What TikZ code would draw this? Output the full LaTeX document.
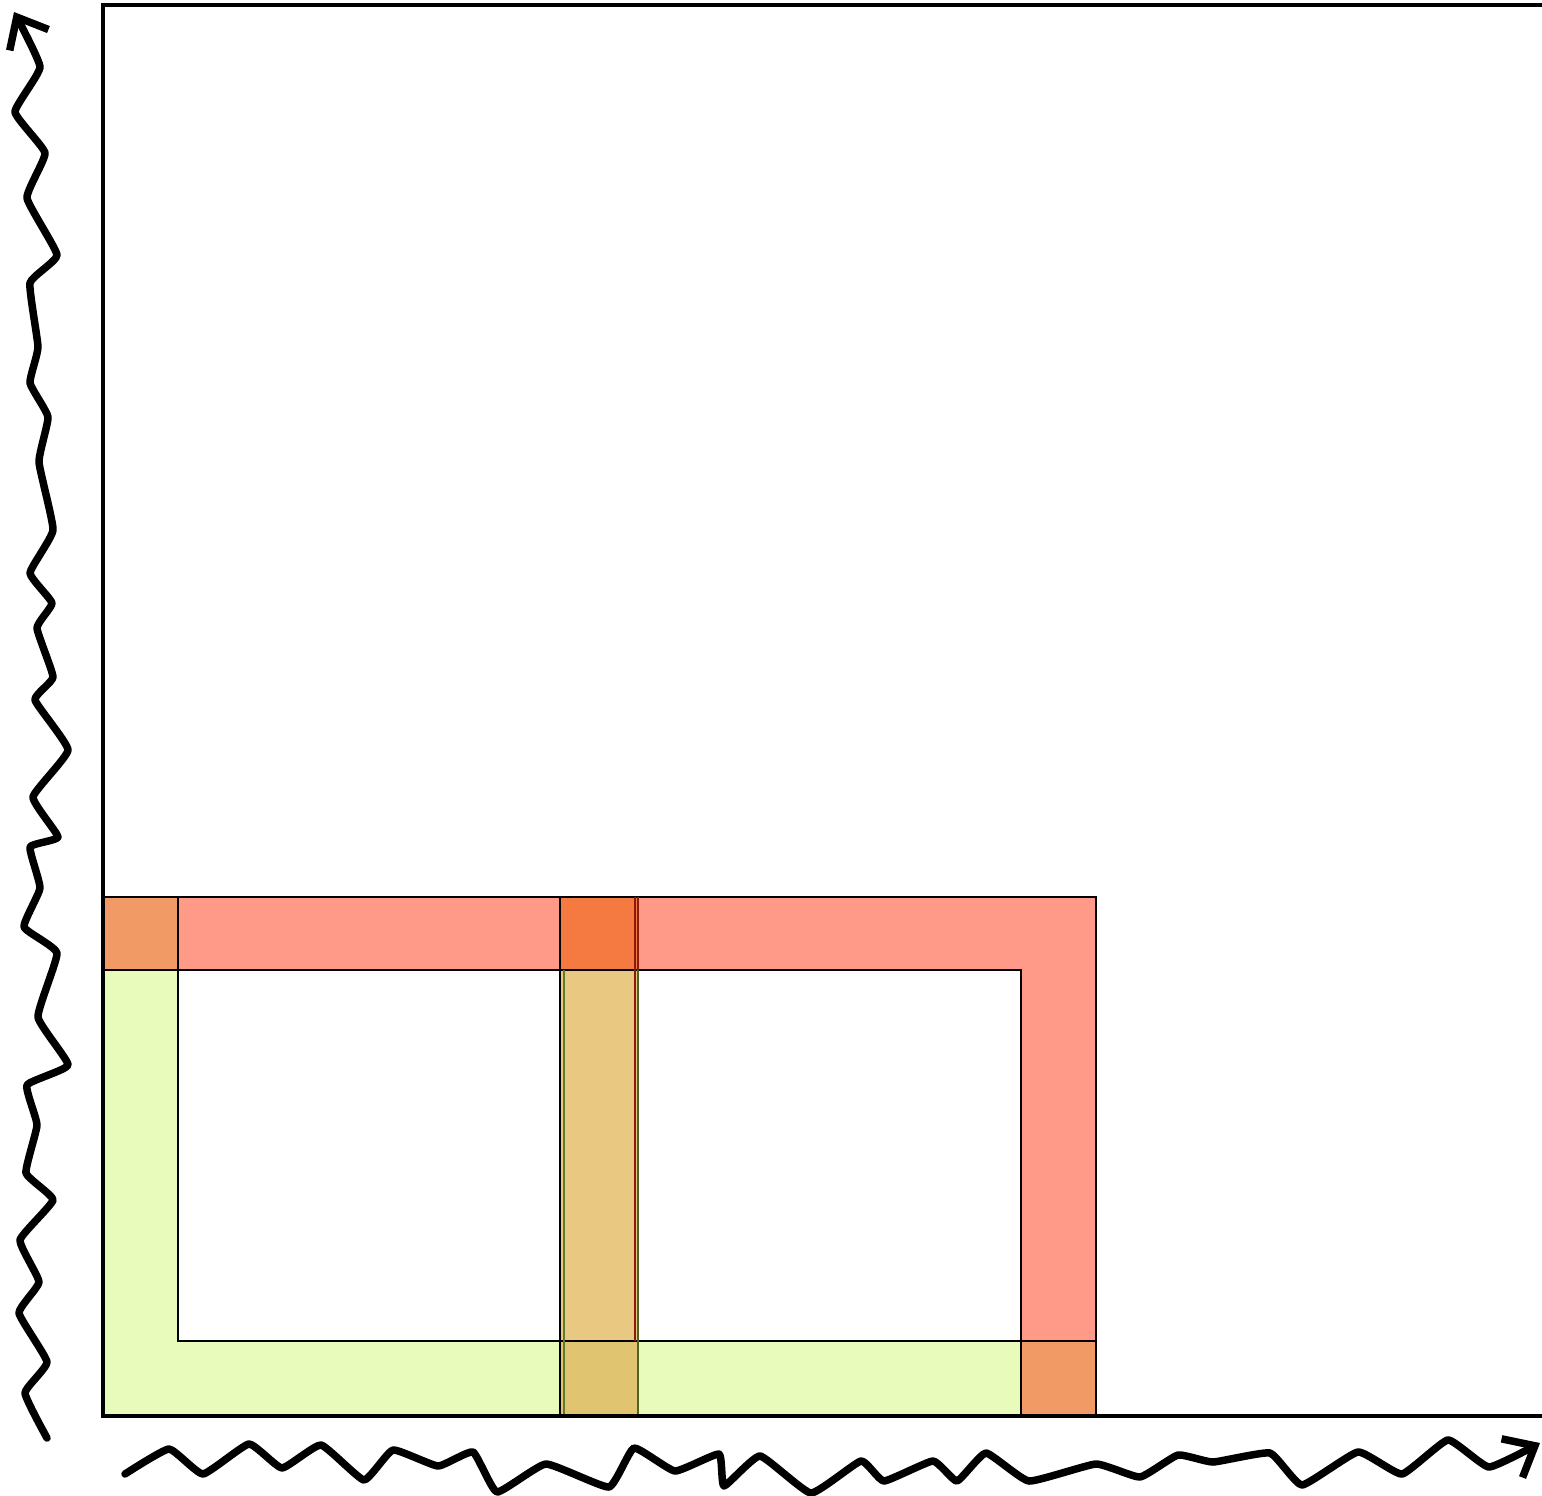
\documentclass[tikz,border=0pt]{standalone}
\usetikzlibrary{arrows.meta}
\definecolor{redC}{HTML}{FF9988}
\definecolor{orangeC}{HTML}{F29A66}
\definecolor{midtopC}{HTML}{F47A42}
\definecolor{midcolC}{HTML}{E9C882}
\definecolor{midbotC}{HTML}{E1C470}
\definecolor{greenC}{HTML}{E8FBBB}
\definecolor{darkred}{HTML}{8A1A0A}
\definecolor{darkgreen}{HTML}{5F7A30}
\tikzset{
  thinline/.style={line width=2.5pt, black},
  frameline/.style={line width=4.5pt, black},
  wavy/.style={line width=7.5pt, black, line join=round, line cap=round,
    -{Straight Barb[length=26pt,width=44pt,line width=7.5pt]}}
}
\begin{document}
\begin{tikzpicture}[x=1pt,y=-1pt]
\useasboundingbox (0,0) rectangle (1542,1496);
% fills
\fill[redC] (178,897) rectangle (560,970);
\fill[redC] (638,897) rectangle (1096,970);
\fill[redC] (1021,970) rectangle (1096,1341);
\fill[orangeC] (103,897) rectangle (178,970);
\fill[orangeC] (1021,1341) rectangle (1096,1416);
\fill[midtopC] (560,897) rectangle (638,970);
\fill[midcolC] (560,970) rectangle (638,1341);
\fill[midbotC] (560,1341) rectangle (638,1416);
\fill[greenC] (103,970) rectangle (178,1416);
\fill[greenC] (178,1341) rectangle (560,1416);
\fill[greenC] (638,1341) rectangle (1021,1416);
% outlines
\draw[thinline] (103,897) -- (1096,897) -- (1096,1416);
\draw[thinline] (103,970) -- (1021,970) -- (1021,1416);
\draw[thinline] (178,897) -- (178,1341) -- (1096,1341);
\draw[thinline] (560,897) -- (560,1416);
\draw[line width=2.5pt, darkgreen] (564,970) -- (564,1416);
\draw[line width=2.5pt, darkred] (635,897) -- (635,1341);
\draw[line width=2pt, darkgreen!80!black] (638,970) -- (638,1416);
\draw[line width=2pt, darkred] (638,897) -- (638,970);
% frame
\draw[frameline] (1550,5) -- (103,5) -- (103,1416) -- (1550,1416);
% left wavy axis
\draw[wavy] plot[smooth, tension=0.25] coordinates {(47,1438) (25,1393) (47,1362) (19,1313) (39,1282) (20,1240) (53,1200) (26,1173) (37,1125) (27,1085) (68,1065) (38,1017) (57,953) (24,927) (40,888) (30,847) (58,837) (33,797) (68,750) (35,700) (53,677) (37,628) (52,603) (30,573) (53,530) (39,462) (48,417) (30,383) (38,347) (30,283) (57,255) (27,198) (45,153) (15,112) (40,67) (14,12)};
% bottom wavy axis
\draw[wavy] plot[smooth, tension=0.25] coordinates {(125,1474) (169,1449) (203,1474) (249,1444) (282,1468) (321,1445) (364,1480) (393,1450) (438,1466) (473,1452) (497,1492) (546,1464) (609,1487) (634,1448) (675,1471) (719,1454) (724,1486) (760,1456) (811,1493) (861,1461) (884,1481) (933,1461) (957,1481) (986,1453) (1029,1481) (1096,1464) (1140,1477) (1178,1455) (1213,1462) (1270,1453) (1302,1485) (1358,1452) (1402,1474) (1448,1440) (1489,1467) (1540,1443)};
\end{tikzpicture}
\end{document}
